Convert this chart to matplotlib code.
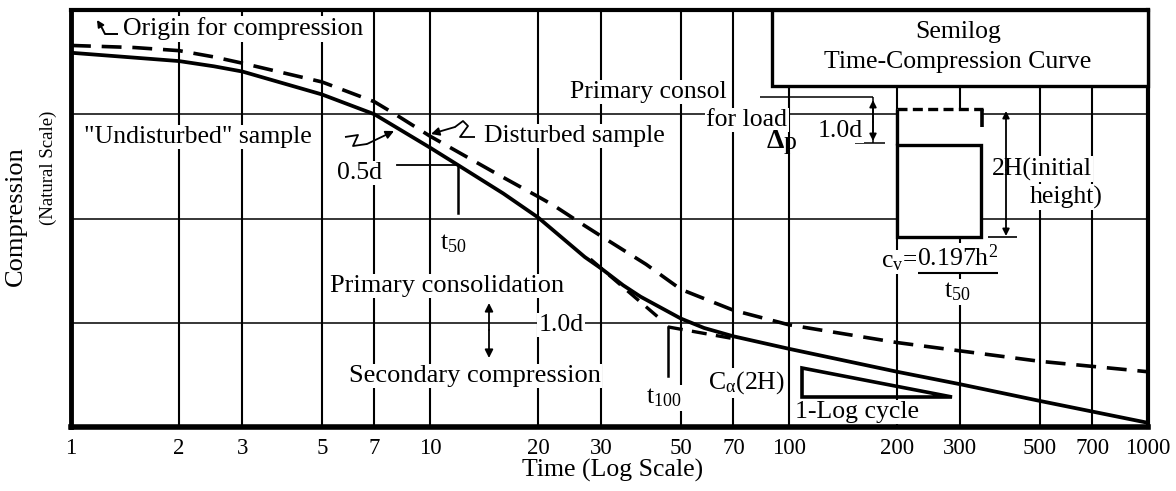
import matplotlib
matplotlib.use("Agg")
import matplotlib.pyplot as plt
from matplotlib.patches import Rectangle, Polygon
from matplotlib.ticker import FixedLocator, FixedFormatter, NullLocator

plt.rcParams["font.family"] = "Liberation Serif"
plt.rcParams["mathtext.fontset"] = "custom"
plt.rcParams["mathtext.rm"] = "Liberation Serif"
plt.rcParams["mathtext.it"] = "Liberation Serif:italic"
plt.rcParams["mathtext.default"] = "regular"

# ---- data ---------------------------------------------------------------
time_ticks = [1, 2, 3, 5, 7, 10, 20, 30, 50, 70, 100, 200, 300, 500, 700, 1000]
time_tick_labels = ["1", "2", "3", "5", "7", "10", "20", "30", "50", "70",
                    "100", "200", "300", "500", "700", "1000"]

# compression in grid divisions (0 = top of chart, 4 = bottom)
undisturbed_time = [1, 2, 2.5, 3, 5, 7, 10, 12, 16, 20, 27, 30, 34.5, 38.6, 50,
                    58, 70, 100, 200, 300, 500, 1000]
undisturbed_comp = [0.41, 0.49, 0.54, 0.59, 0.81, 1.00, 1.32, 1.49, 1.76, 1.99,
                    2.37, 2.48, 2.64, 2.75, 2.96, 3.05, 3.13, 3.25, 3.47, 3.59,
                    3.75, 3.96]

disturbed_time = [1, 1.5, 2, 2.5, 3, 5, 7, 8, 10, 15.5, 20, 22, 27, 30, 40,
                  50, 70, 100, 200, 300, 500, 1000]
disturbed_comp = [0.34, 0.36, 0.39, 0.45, 0.51, 0.69, 0.88, 1.00, 1.21, 1.58,
                  1.79, 1.87, 2.07, 2.17, 2.44, 2.68, 2.88, 3.02, 3.19, 3.27,
                  3.37, 3.47]

# Casagrande construction lines
tangent_time = [28, 44]
tangent_comp = [2.39, 2.97]
secondary_time = [46, 72]
secondary_comp = [3.04, 3.16]

t50 = 12
comp_50 = 1.49
half_d_start = 8.1
t50_tick_end = 1.95
t100 = 46
comp_100 = 3.04
t100_tick_end = 3.51

# ---- figure -------------------------------------------------------------
W, H = 1176, 491
AX_L, AX_R, AX_T, AX_B = 71, 1148, 10, 427

fig = plt.figure(figsize=(W / 100, H / 100), dpi=100)
ax = fig.add_axes([AX_L / W, (H - AX_B) / H, (AX_R - AX_L) / W, (AX_B - AX_T) / H])


def at(x, y):
    """Figure pixel (origin top-left) -> axes fraction."""
    return ((x - AX_L) / (AX_R - AX_L), (AX_B - y) / (AX_B - AX_T))


def poly(points, **kw):
    xs, ys = zip(*(at(x, y) for x, y in points))
    kw.setdefault("color", "k")
    kw.setdefault("solid_capstyle", "butt")
    ax.plot(xs, ys, transform=ax.transAxes, clip_on=False, **kw)


def arrow(tail, tip, style="-|>", lw=1.3, ms=12):
    ax.annotate("", xy=at(*tip), xytext=at(*tail), xycoords="axes fraction",
                textcoords="axes fraction", zorder=6,
                arrowprops=dict(arrowstyle=style, color="k", lw=lw,
                                shrinkA=0, shrinkB=0, mutation_scale=ms))


WB = dict(facecolor="white", edgecolor="none", pad=1.0)


def label(x, y, s, size=18.5, ha="center", va="center", box=True, z=3, **kw):
    ax.text(*at(x, y), s, transform=ax.transAxes, ha=ha, va=va, fontsize=size,
            bbox=WB if box else None, zorder=z, **kw)


ax.set_xscale("log")
ax.set_xlim(1, 1000)
ax.set_ylim(4, 0)
ax.xaxis.set_major_locator(FixedLocator(time_ticks))
ax.xaxis.set_major_formatter(FixedFormatter(time_tick_labels))
ax.xaxis.set_minor_locator(NullLocator())
ax.set_yticks([1, 2, 3])
ax.set_yticklabels([])
ax.tick_params(axis="both", length=0)
ax.tick_params(axis="x", pad=8, labelsize=16.5)
ax.grid(axis="x", color="k", lw=1.5)
ax.grid(axis="y", color="k", lw=1.1)
ax.set_axisbelow(True)
for side, lw in (("left", 3.5), ("bottom", 4.0), ("top", 3.0), ("right", 3.0)):
    ax.spines[side].set_linewidth(lw)

# curves
dash = (0, (5.5, 3.0))
ax.plot(undisturbed_time, undisturbed_comp, color="k", lw=2.7, zorder=5,
        solid_joinstyle="round")
ax.plot(disturbed_time, disturbed_comp, color="k", lw=2.6, ls=dash, zorder=5)
ax.plot(tangent_time, tangent_comp, color="k", lw=2.4, ls=(0, (4.5, 2.8)),
        zorder=5)
ax.plot(secondary_time, secondary_comp, color="k", lw=2.4, ls=(0, (4.5, 2.8)),
        zorder=5)

# t50 and t100 markers
ax.plot([half_d_start, t50], [comp_50, comp_50], color="k", lw=1.3, zorder=5)
ax.plot([t50, t50], [comp_50, t50_tick_end], color="k", lw=1.8, zorder=5)
ax.plot([t100, t100], [comp_100, t100_tick_end], color="k", lw=1.8, zorder=5)

# ---- labels on the chart ---------------------------------------------
label(243, 29, "Origin for compression")
label(198, 137, '"Undisturbed" sample')
label(574, 136, "Disturbed sample")
label(360, 173, "0.5d")
label(440, 244, "t$_{50}$", ha="left")
label(447, 286, "Primary consolidation", size=19)
label(475, 376, "Secondary compression", size=19)
label(561, 325, "1.0d")
label(646, 398, "t$_{100}$", ha="left")
label(708, 383, r"C$_{\alpha}$(2H)", ha="left")
label(795, 412, "1-Log cycle", ha="left")
label(648, 92, "Primary consol")
label(747, 120, "for load")
label(775, 142, "Δ", size=20, fontweight="bold", box=False)
label(790, 143, "p", box=False)
label(840, 131, "1.0d")
label(992, 169, "2H(initial", ha="left")
label(1030, 197, "height)", ha="left")

# squiggle pointers
poly([(118, 34), (105, 34), (102, 28)], lw=1.4)
arrow((102, 28), (97, 20), ms=10)
poly([(345, 137), (358, 135), (353, 146), (367, 144)], lw=1.3)
arrow((367, 144), (394, 131))
poly([(475, 137), (460, 137), (468, 126), (463, 121), (455, 127)], lw=1.3)
arrow((455, 127), (431, 134))

# primary / secondary double arrow
arrow((489, 330), (489, 303))
arrow((489, 330), (489, 358))

# C_alpha triangle
ax.add_patch(Polygon([at(802, 368), at(802, 397), at(952, 397)], closed=True,
                     fill=False, ec="k", lw=2.6, joinstyle="miter",
                     transform=ax.transAxes, zorder=4))

# title box
x0, y0 = at(772, 86)
ax.add_patch(Rectangle((x0, y0), (1148 - 772) / (AX_R - AX_L),
                       (86 - 10) / (AX_B - AX_T), fc="white", ec="k", lw=2.4,
                       transform=ax.transAxes, zorder=4, clip_on=False))
label(958, 32, "Semilog", box=False, z=5)
label(958, 62, "Time-Compression Curve", box=False, z=5)

# specimen sketch
x0, y0 = at(897, 237)
ax.add_patch(Rectangle((x0, y0), (983 - 897) / (AX_R - AX_L),
                       (237 - 109) / (AX_B - AX_T), fc="white", ec="none",
                       transform=ax.transAxes, zorder=4))
ax.add_patch(Rectangle((x0, y0), (981 - 897) / (AX_R - AX_L),
                       (237 - 145) / (AX_B - AX_T), fc="none", ec="k", lw=2.4,
                       transform=ax.transAxes, zorder=4.5))
poly([(897, 109), (983, 109)], lw=2.4, ls=(0, (3, 1.6)), zorder=4.5)
poly([(982, 109), (982, 127)], lw=2.6, zorder=4.5)
poly([(897, 109), (897, 145)], lw=2.4, zorder=4.5)

# 1.0d settlement dimension
poly([(760, 97), (873, 97)], lw=1.1)
poly([(873, 97), (873, 143)], lw=1.1)
arrow((873, 122), (873, 100), ms=10)
arrow((873, 122), (873, 141), ms=10)
poly([(855, 143), (885, 143)], lw=1.1)

# 2H dimension
arrow((1006, 170), (1006, 111), ms=10)
arrow((1006, 170), (1006, 236), ms=10)
poly([(988, 237), (1017, 237)], lw=1.2)

# c_v formula
label(918, 262, "c$_{v}$=", ha="right")
label(958, 258, "0.197h$^{2}$")
poly([(918, 273), (998, 273)], lw=1.5, zorder=5)
label(957, 292, "t$_{50}$")

# axis titles
fig.text(613 / W, 1 - 470 / H, "Time (Log Scale)", ha="center", va="center",
         fontsize=18.5)
fig.text(16 / W, 1 - 216 / H, "Compression", rotation=90, ha="center",
         va="center", fontsize=19)
fig.text(48 / W, 1 - 168 / H, "(Natural Scale)", rotation=90, ha="center",
         va="center", fontsize=13.5)

fig.savefig("out.png", dpi=100)
